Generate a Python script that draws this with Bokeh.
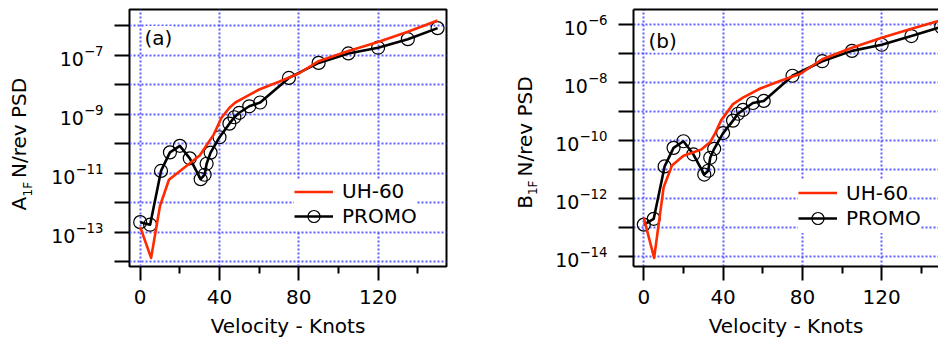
import math
from bokeh.plotting import figure
from bokeh.models import (FixedTicker, Label, Legend, LegendItem, LinearAxis, Range1d,
                          CustomJSTickFormatter)
from bokeh.layouts import row
from bokeh.embed import file_html
from bokeh.resources import INLINE

FONT = "DejaVu Sans"

# ---------------- data ----------------
velocity_promo = [0, 5, 10.5, 15, 20, 25, 30.5, 32.5, 33.5, 35.5, 40, 45, 47.5, 50,
                  55, 60.5, 75, 90, 105, 120, 135, 150]
a1f_promo = [2.2e-13, 1.8e-13, 1.2e-11, 5.1e-11, 8.5e-11, 3.2e-11, 6.3e-12, 8.9e-12,
             2.1e-11, 5.0e-11, 1.66e-10, 4.8e-10, 7.9e-10, 1.12e-9, 1.86e-9, 2.5e-9,
             1.7e-8, 5.5e-8, 1.15e-7, 1.8e-7, 3.5e-7, 8.3e-7]
b1f_promo = [1.23e-13, 1.95e-13, 1.26e-11, 5.5e-11, 9.3e-11, 3.3e-11, 6.6e-12, 8.9e-12,
             2.5e-11, 5.1e-11, 1.78e-10, 4.8e-10, 8.3e-10, 1.12e-9, 1.95e-9, 2.3e-9,
             1.7e-8, 5.4e-8, 1.23e-7, 2.0e-7, 4.0e-7, 8.3e-7]

velocity_uh60_a = [0, 5.5, 10, 14.5, 30, 34.5, 37, 41, 45, 48, 52, 60, 70, 80, 90,
                   105, 120, 135, 150]
a1f_uh60 = [1.5e-13, 1.35e-14, 7.9e-13, 6.0e-12, 4.0e-11, 1.12e-10, 2.0e-10, 7.6e-10,
            1.66e-9, 2.5e-9, 3.5e-9, 6.9e-9, 1.26e-8, 2.4e-8, 6.3e-8, 1.4e-7, 2.8e-7,
            6.3e-7, 1.5e-6]

velocity_uh60_b = [0, 5.2, 10, 14.2, 20, 29, 33.5, 36, 39, 45, 50, 59, 68, 79, 90,
                   105, 120, 135, 150]
b1f_uh60 = [2.1e-13, 8.7e-15, 2.4e-12, 1.35e-11, 2.95e-11, 4.8e-11, 8.7e-11, 1.78e-10,
            4.9e-10, 1.78e-9, 3.0e-9, 6.3e-9, 1.07e-8, 2.0e-8, 6.3e-8, 1.58e-7, 3.5e-7,
            7.1e-7, 1.41e-6]

x_major_ticks = [0, 40, 80, 120]
x_minor_ticks = [20, 60, 100, 140]
a_labeled_decades = [1e-13, 1e-11, 1e-9, 1e-7]
a_other_decades = [1e-14, 1e-12, 1e-10, 1e-8, 1e-6]
b_labeled_decades = [1e-14, 1e-12, 1e-10, 1e-8, 1e-6]
b_other_decades = [1e-13, 1e-11, 1e-9, 1e-7]

series_names = ["UH-60", "PROMO"]
x_title = "Velocity - Knots"
y_title_rest = "N/rev PSD"
y_subscript = "1F"

RED = "#ff2a00"
GRID = "#5f5fff"
H = 346
TOP, BOTTOM = 9, 80          # borders shared by every plot in the row


def blank():
    return CustomJSTickFormatter(code="return ''")


def title_strip(width, letter, main_cx, sub_cx, start_main, start_sub, start_rest):
    """Narrow canvas holding the rotated y-axis title (letter, subscript, rest).
    Its frame spans the same rows as the panels; y data = page pixel row counted
    from the bottom of the window."""
    s = figure(width=width, height=H, x_range=Range1d(0, width),
               y_range=Range1d(BOTTOM, H - TOP),
               output_backend="svg", toolbar_location=None,
               min_border_left=0, min_border_right=0,
               min_border_top=TOP, min_border_bottom=BOTTOM,
               x_axis_location=None, y_axis_location=None)
    s.outline_line_color = None
    s.grid.visible = False
    s.background_fill_color = "white"
    s.border_fill_color = "white"
    s.add_layout(Label(x=main_cx, y=H - start_main, angle=math.pi / 2, text=letter,
                       text_align="left", text_baseline="middle", text_font=FONT,
                       text_font_size="20px", text_color="black"))
    s.add_layout(Label(x=sub_cx, y=H - start_sub, angle=math.pi / 2, text=y_subscript,
                       text_align="left", text_baseline="middle", text_font=FONT,
                       text_font_size="12px", text_color="black"))
    s.add_layout(Label(x=main_cx, y=H - start_rest, angle=math.pi / 2, text=y_title_rest,
                       text_align="left", text_baseline="middle", text_font=FONT,
                       text_font_size="20px", text_color="black"))
    return s


def make_panel(width, border_left, border_right, x_range, y_range, tag,
               promo, uh_x, uh_y, labeled, others, tag_y, leg_uh_y, leg_pr_y, cut_right):
    p = figure(width=width, height=H, x_range=x_range, y_range=y_range,
               y_axis_type="log", output_backend="svg", toolbar_location=None,
               min_border_left=border_left, min_border_right=border_right,
               min_border_top=TOP, min_border_bottom=BOTTOM)
    p.background_fill_color = "white"
    p.border_fill_color = "white"

    xt = FixedTicker(ticks=x_major_ticks, minor_ticks=x_minor_ticks)
    yt = FixedTicker(ticks=labeled, minor_ticks=others)
    xa = p.xaxis[0]
    ya = p.yaxis[0]
    xa.ticker = xt
    ya.ticker = yt
    p.xgrid.ticker = xt
    p.ygrid.ticker = yt

    for g in (p.xgrid, p.ygrid):
        g.grid_line_color = GRID
        g.grid_line_dash = "2 2"
        g.grid_line_width = 2
    p.ygrid.minor_grid_line_color = GRID
    p.ygrid.minor_grid_line_dash = "2 2"
    p.ygrid.minor_grid_line_width = 2

    xa.major_tick_out = 14
    xa.major_tick_in = 0
    xa.minor_tick_out = 7
    xa.minor_tick_in = 0
    xa.major_tick_line_width = 2
    xa.minor_tick_line_width = 2
    xa.major_tick_line_color = "black"
    xa.minor_tick_line_color = "black"
    xa.major_label_text_font = FONT
    xa.major_label_text_font_size = "20px"
    xa.major_label_text_color = "black"
    xa.major_label_standoff = 9
    xa.axis_label = x_title
    xa.axis_label_text_font = FONT
    xa.axis_label_text_font_size = "20px"
    xa.axis_label_text_font_style = "normal"
    xa.axis_label_text_color = "black"
    xa.axis_label_standoff = 7

    ya.major_tick_out = 15
    ya.major_tick_in = 0
    ya.minor_tick_out = 15
    ya.minor_tick_in = 0
    ya.major_tick_line_width = 2
    ya.minor_tick_line_width = 2
    ya.major_tick_line_color = "black"
    ya.minor_tick_line_color = "black"
    ya.major_label_text_font = FONT
    ya.major_label_text_font_size = "19px"
    ya.major_label_text_color = "black"
    ya.major_label_standoff = 11

    if cut_right:
        p.outline_line_color = None
        xa.axis_line_color = "black"
        xa.axis_line_width = 2
        ya.axis_line_color = "black"
        ya.axis_line_width = 2
        top = LinearAxis(ticker=FixedTicker(ticks=[], minor_ticks=[]), formatter=blank(),
                         major_tick_out=0, minor_tick_out=0, major_tick_in=0,
                         minor_tick_in=0, major_label_standoff=0,
                         major_tick_line_color=None, minor_tick_line_color=None,
                         axis_line_color="black", axis_line_width=2)
        p.add_layout(top, "above")
    else:
        p.outline_line_color = "black"
        p.outline_line_width = 2
        xa.axis_line_color = None
        ya.axis_line_color = None

    # series
    r_pl = p.line(velocity_promo, promo, line_color="black", line_width=2.6, line_join="round")
    r_pc = p.scatter(velocity_promo, promo, marker="circle", size=13, fill_color=None,
                     line_color="black", line_width=1.2)
    r_uh = p.line(uh_x, uh_y, line_color=RED, line_width=2.6, line_join="round")

    common = dict(glyph_width=39, label_standoff=9, padding=0, spacing=0, margin=0,
                  label_text_font=FONT, label_text_font_size="20px",
                  label_text_color="black",
                  border_line_color=None, background_fill_color="white",
                  background_fill_alpha=1.0)
    leg1 = Legend(items=[LegendItem(label=series_names[0], renderers=[r_uh])],
                  location=(165, leg_uh_y), glyph_height=25, **common)
    leg2 = Legend(items=[LegendItem(label=series_names[1], renderers=[r_pl, r_pc])],
                  location=(165, leg_pr_y), glyph_height=30, **common)
    p.add_layout(leg1)
    p.add_layout(leg2)

    # panel tag
    p.add_layout(Label(x=15, y=tag_y, x_units="screen", y_units="screen", text=tag,
                       text_align="left", text_baseline="middle", text_font=FONT,
                       text_font_size="20px", text_color="black",
                       background_fill_color="white", background_fill_alpha=1.0))
    return p


# left group: strip 0..40, panel 40..468 (frame 129..446)
sa = title_strip(40, "A", 18, 27.5, 210, 196, 177.5)
pa = make_panel(428, 89, 22, Range1d(-5.4, 154.5), Range1d(6.9e-15, 3.55e-6), "(a)",
                a1f_promo, velocity_uh60_a, a1f_uh60, a_labeled_decades, a_other_decades,
                228.5, 62.5, 35, False)
# right group: strip 468..548, panel 548..938 (frame 633..938, cut at the window edge)
sb = title_strip(80, "B", 56, 64.8, 208.3, 194.6, 176)
pb = make_panel(390, 85, 0, Range1d(-5.2, 148.65), Range1d(4.4e-15, 3.3e-6), "(b)",
                b1f_promo, velocity_uh60_b, b1f_uh60, b_labeled_decades, b_other_decades,
                226, 60.8, 32.7, True)

layout = row(sa, pa, sb, pb)
open("out.html", "w").write(file_html(layout, INLINE))
